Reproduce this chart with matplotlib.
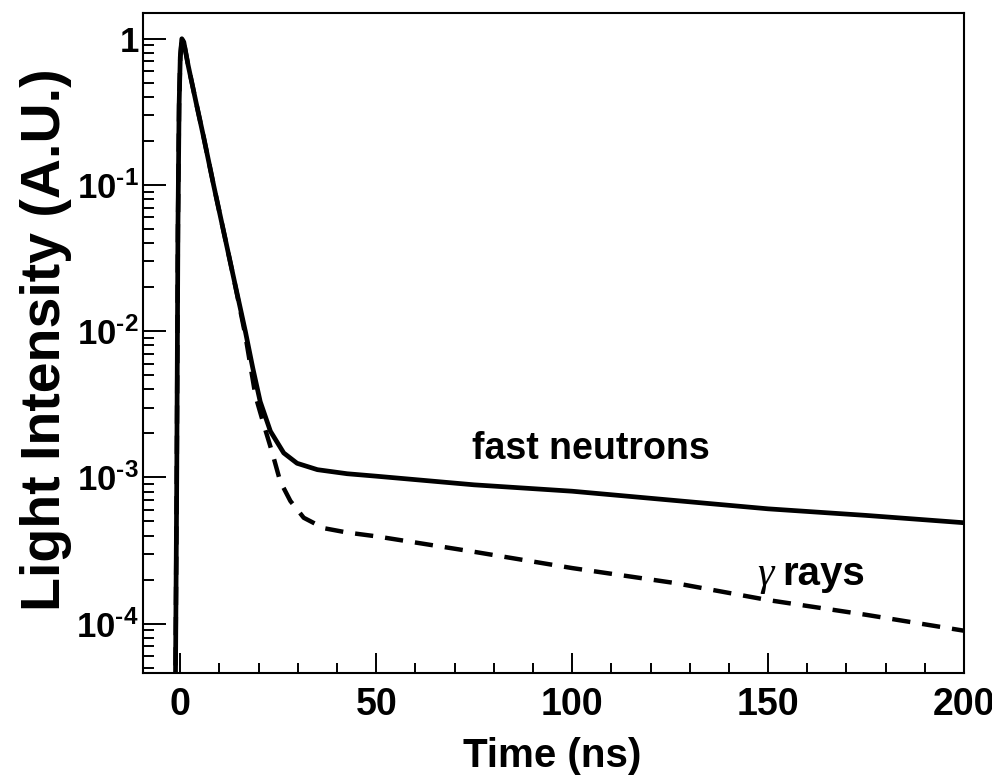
import matplotlib
matplotlib.use("Agg")
import matplotlib.pyplot as plt
from matplotlib.ticker import FixedLocator, FixedFormatter, MultipleLocator

# values (time in ns, intensity in A.U.)
t_neutron = [-1.3, -0.9, -0.6, -0.3, 0.0, 0.4, 0.9, 2.0, 4.0, 6.0, 8.5, 11.0,
             13.5, 16.6, 18.5, 20.4, 23.0, 26.4, 29.8, 35.0, 42.6, 50.0, 75.0,
             100.0, 127.7, 150.0, 175.0, 200.0]
i_neutron = [2e-5, 1e-3, 0.05, 0.35, 0.75, 1.0, 0.95, 0.66, 0.37, 0.21, 0.1,
             0.049, 0.024, 0.0100, 5.6e-3, 3.3e-3, 2.07e-3, 1.47e-3, 1.25e-3,
             1.13e-3, 1.06e-3, 1.02e-3, 8.9e-4, 8.05e-4, 6.9e-4, 6.1e-4,
             5.5e-4, 4.9e-4]

t_gamma = [-1.3, -0.9, -0.6, -0.3, 0.0, 0.4, 0.9, 2.0, 4.0, 6.0, 8.5, 11.0,
           13.5, 16.6, 19.2, 21.3, 23.4, 25.5, 28.1, 31.5, 36.6, 42.6, 50.2,
           75.0, 100.0, 126.0, 150.0, 175.0, 200.0]
i_gamma = [2e-5, 1e-3, 0.05, 0.35, 0.75, 1.0, 0.95, 0.66, 0.37, 0.21, 0.1,
           0.049, 0.024, 9.4e-3, 3.6e-3, 2.3e-3, 1.5e-3, 9.4e-4, 6.9e-4,
           5.3e-4, 4.5e-4, 4.2e-4, 3.95e-4, 3.1e-4, 2.4e-4, 1.9e-4, 1.45e-4,
           1.15e-4, 8.95e-5]

y_ticks = [1e-4, 1e-3, 1e-2, 1e-1, 1]
y_tick_labels = ["$10^{\u20104}$", "$10^{\u20103}$", "$10^{\u20102}$",
                 "$10^{\u20101}$", "1"]
y_minor = [m * 10.0 ** e for e in range(-5, 1) for m in range(2, 10)]

sans = ["Liberation Sans", "DejaVu Sans"]
plt.rcParams["mathtext.fontset"] = "custom"
plt.rcParams["mathtext.rm"] = "Liberation Sans:bold"
plt.rcParams["mathtext.it"] = "Liberation Sans:bold"
plt.rcParams["mathtext.bf"] = "Liberation Sans:bold"
plt.rcParams["mathtext.sf"] = "Liberation Sans:bold"
plt.rcParams["mathtext.default"] = "rm"

fig = plt.figure(figsize=(9.92, 7.82), dpi=100)
ax = fig.add_axes([0.1442, 0.1394, 0.8276, 0.8440])

# gamma first, neutrons drawn on top of the shared rise/decay
ax.plot(t_gamma, i_gamma, color="black", lw=3.2, ls=(0, (4.1, 2.7)))
ax.plot(t_neutron, i_neutron, color="black", lw=3.4)

ax.set_yscale("log")
ax.set_xlim(-9.5, 200)
ax.set_ylim(4.6e-5, 1.5)

ax.yaxis.set_major_locator(FixedLocator(y_ticks))
ax.yaxis.set_major_formatter(FixedFormatter(y_tick_labels))
ax.yaxis.set_minor_locator(FixedLocator(y_minor))
ax.yaxis.set_minor_formatter(FixedFormatter([""] * len(y_minor)))
ax.xaxis.set_major_locator(MultipleLocator(50))
ax.xaxis.set_minor_locator(MultipleLocator(10))

ax.tick_params(axis="both", which="both", direction="in", width=1.4,
               colors="black", top=False, right=False)
ax.tick_params(axis="y", which="major", length=16.5, pad=3)
ax.tick_params(axis="y", which="minor", length=8)
ax.tick_params(axis="x", which="major", length=14.5, pad=10)
ax.tick_params(axis="x", which="minor", length=7)
for lab in ax.get_xticklabels():
    lab.set_family(sans)
    lab.set_fontweight("bold")
    lab.set_fontsize(27)
for lab in ax.get_yticklabels():
    lab.set_family(sans)
    lab.set_fontweight("bold")
    lab.set_fontsize(25)

for sp in ax.spines.values():
    sp.set_linewidth(1.5)

ax.set_xlabel("Time (ns)", family=sans, fontweight="bold", fontsize=29)
ax.xaxis.set_label_coords(0.4985, -0.097)
ax.set_ylabel("Light Intensity (A.U.)", family=sans,
              fontweight="bold", fontsize=40)
ax.yaxis.set_label_coords(-0.086, 0.505)

ax.text(104.7, 1.33e-3, "fast neutrons", family=sans, fontweight="bold",
        fontsize=27, ha="center", va="baseline")
ax.text(147.3, 1.85e-4, "\u03b3", family=["Liberation Serif", "DejaVu Serif"],
        fontstyle="italic", fontsize=30, ha="left", va="baseline")
ax.text(153.5, 1.85e-4, "rays", family=sans, fontweight="bold",
        fontsize=29, ha="left", va="baseline")

fig.savefig("out.png", dpi=100)
